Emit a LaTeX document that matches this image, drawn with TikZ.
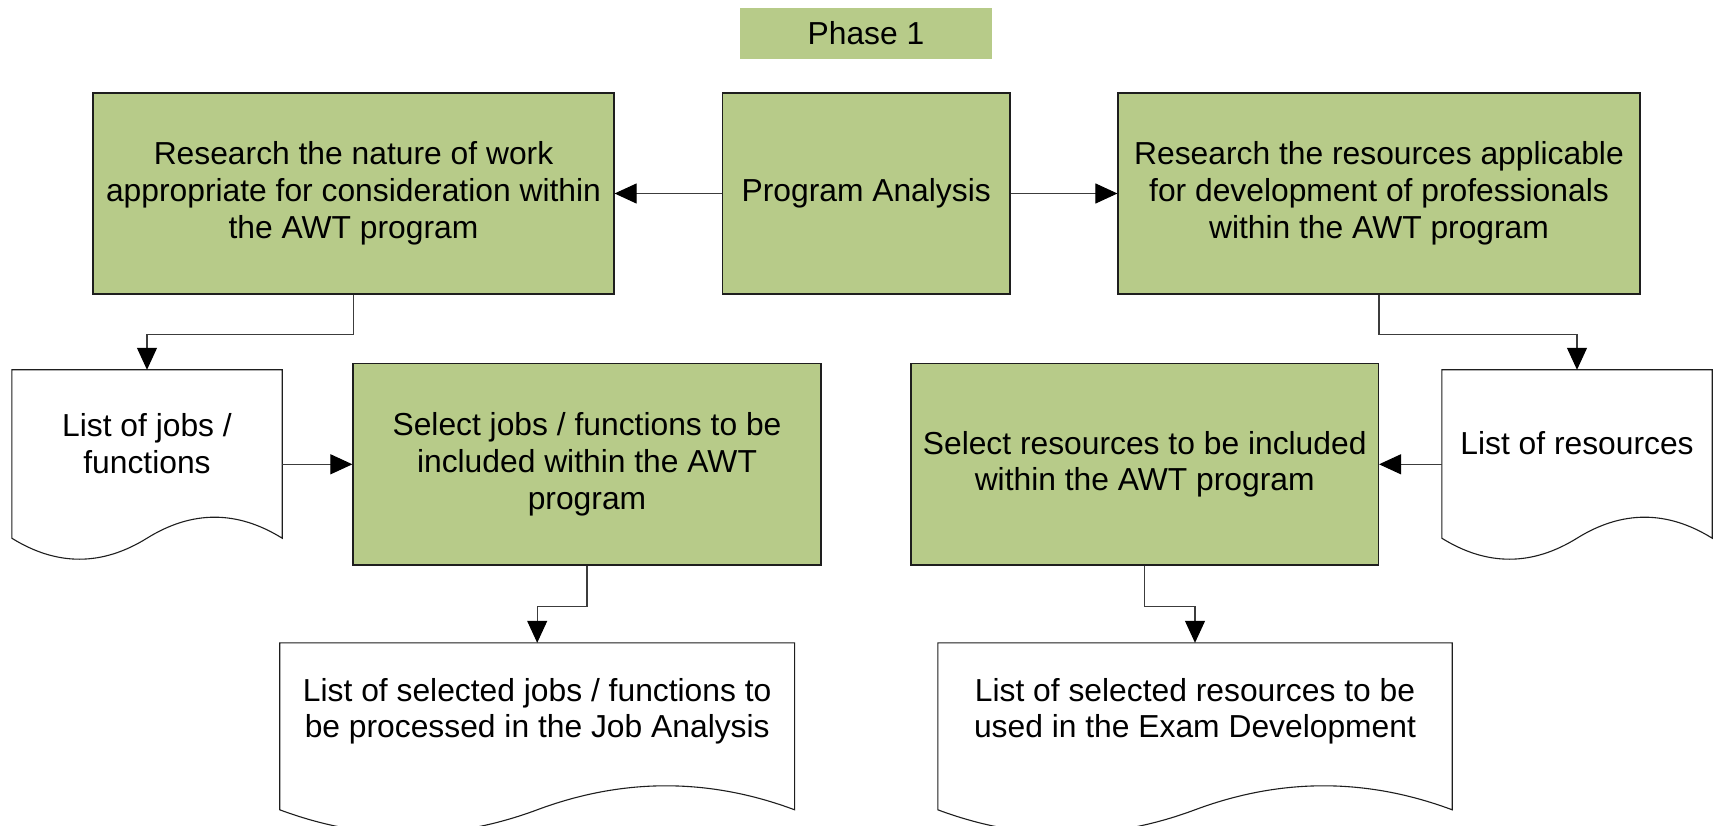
\documentclass[tikz,border=0pt]{standalone}
\usepackage{fontspec}
\setmainfont{Liberation Sans}
\usetikzlibrary{arrows.meta,calc}
\definecolor{boxgreen}{RGB}{183,203,137}
\definecolor{edge}{RGB}{30,30,30}
\definecolor{connc}{RGB}{60,60,60}
\begin{document}
\begin{tikzpicture}[x=1pt,y=-1pt,
  every node/.style={font=\fontsize{31.8}{36.8}\selectfont, align=center, inner sep=0pt},
  gbox/.style={draw=edge, line width=1.2pt, fill=boxgreen},
  docbody/.style={draw=none},
  doctext/.style={font=\fontsize{31.8}{36.4}\selectfont, align=center, inner sep=0pt},
  conn/.style={draw=connc, line width=1.1pt, -{Triangle[length=22pt,width=20pt,color=black,fill=black]}},
  docline/.style={draw=edge, line width=1.1pt, fill=white}
]
\useasboundingbox (0,0) rectangle (1714,826);

% Phase label
\node[fill=boxgreen, minimum width=252pt, minimum height=50.5pt] (phase) at (866,33.3) {Phase 1};

% Top row
\node[gbox, minimum width=521pt, minimum height=201pt] (A) at (353.5,193.5)
  {Research the nature of work\\appropriate for consideration within\\the AWT program};
\node[gbox, minimum width=287.5pt, minimum height=201pt] (PA) at (866.2,193.5)
  {Program Analysis};
\node[gbox, minimum width=522pt, minimum height=201pt] (C) at (1379,193.5)
  {Research the resources applicable\\for development of professionals\\within the AWT program};

% Middle row
\node[gbox, minimum width=468pt, minimum height=201.5pt] (sj) at (587,464.3)
  {Select jobs / functions to be\\included within the AWT\\program};
\node[gbox, minimum width=467.5pt, minimum height=201.5pt] (sr) at (1144.7,464.3)
  {Select resources to be included\\within the AWT program};

% Document bodies
\node[docbody, minimum width=270pt, minimum height=168pt] (ljobs) at (147,454) {};
\node[docbody, minimum width=270pt, minimum height=168pt] (lres) at (1577,454) {};
\node[docbody, minimum width=514.5pt, minimum height=166.6pt] (lsel) at (537.2,726.3) {};
\node[docbody, minimum width=514pt, minimum height=166.6pt] (lselr) at (1195,726.3) {};

\newcommand{\docshape}[2]{%
  \path[docline] let \p1=(#1.north west), \p2=(#1.south east), \n1={\x2-\x1}, \n2={#2*4/3} in
    (\x1,\y1) -- (\x2,\y1) -- (\x2,\y2)
    .. controls (\x2-\n1/6*1pt, \y2+\n2*1pt) and (\x2-\n1/3*1pt, \y2+\n2*1pt) .. (\x1+\n1/2*1pt, \y2)
    .. controls (\x1+\n1/3*1pt, \y2-\n2*1pt) and (\x1+\n1/6*1pt, \y2-\n2*1pt) .. (\x1,\y2)
    -- cycle;}
\docshape{ljobs}{21}
\docshape{lres}{21}
\docshape{lsel}{24}
\docshape{lselr}{24}

\node[doctext] (ljobsT) at ($(ljobs.center)+(0,-10.5)$) {List of jobs /\\functions};
\node[doctext] (lresT) at ($(lres.center)+(0,-10.4)$) {List of resources};
\node[doctext] (lselT) at ($(lsel.center)+(0,-15.3)$) {List of selected jobs / functions to\\be processed in the Job Analysis};
\node[doctext] (lselrT) at ($(lselr.center)+(0,-15.3)$) {List of selected resources to be\\used in the Exam Development};

% Connectors
\draw[conn] (PA.west) -- (A.east);
\draw[conn] (PA.east) -- (C.west);
\draw[conn] (A.south) -- ++(0,40) -| (ljobs.north);
\draw[conn] (C.south) -- ++(0,40) -| (lres.north);
\draw[conn] (sj.west -| ljobs.east) -- (sj.west);
\draw[conn] (sr.east -| lres.west) -- (sr.east);
\draw[conn] (sj.south) -- ++(0,41) -| (lsel.north);
\draw[conn] (sr.south) -- ++(0,41) -| (lselr.north);
\end{tikzpicture}
\end{document}
